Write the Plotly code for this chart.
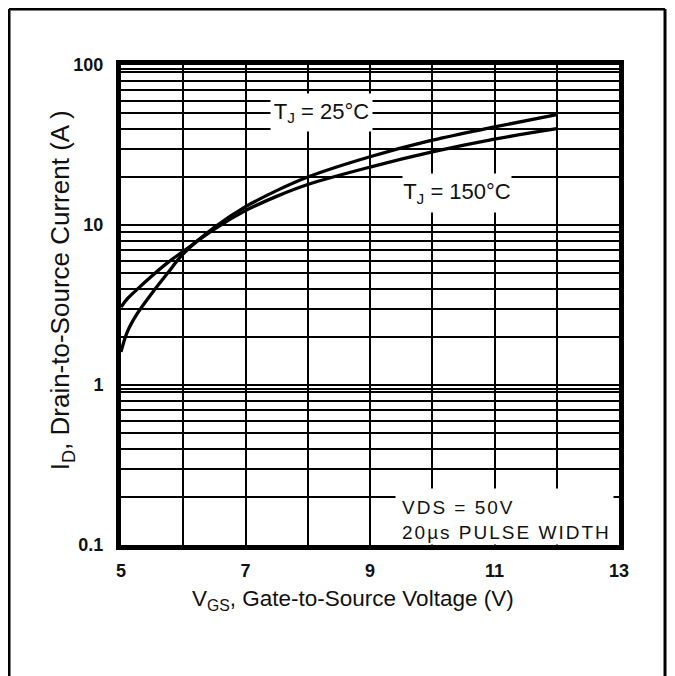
import plotly.graph_objects as go

# ---- data ----
vgs = [5.0, 5.1, 5.25, 5.5, 5.75, 6.0, 6.5, 7.0, 7.5, 8.0, 9.0, 10.0, 11.0, 12.0]
id_25c = [1.61, 2.14, 2.75, 3.76, 5.01, 6.61, 9.66, 13.0, 16.4, 19.95, 26.7, 33.9, 41.0, 49.0]
id_150c = [3.07, 3.45, 3.93, 4.82, 5.82, 6.84, 9.44, 12.3, 15.1, 17.9, 23.0, 28.6, 34.4, 40.0]

x_tick_vals = [5, 6, 7, 8, 9, 10, 11, 12, 13]
x_tick_text = ["5", "", "7", "", "9", "", "11", "", "13"]

y_tick_vals = [0.1, 0.2, 0.3, 0.4, 0.5, 0.6, 0.7, 0.8, 0.9, 0.95,
               1, 2, 3, 4, 5, 6, 7, 8, 9,
               10, 20, 30, 40, 50, 60, 70, 80, 90, 95, 100]
y_major = {0.1: "0.1", 1: "1", 10: "10", 100: "100"}
y_tick_text = [y_major.get(v, "") for v in y_tick_vals]

FONT = "Liberation Sans, Arial, Helvetica, sans-serif"
TXT = "#111111"

fig = go.Figure()
fig.add_trace(go.Scatter(x=vgs, y=id_25c, mode="lines",
                         line=dict(color="black", width=3.3, shape="spline", smoothing=1.0),
                         name="TJ = 25°C", showlegend=False, hoverinfo="skip"))
fig.add_trace(go.Scatter(x=vgs, y=id_150c, mode="lines",
                         line=dict(color="black", width=3.3, shape="spline", smoothing=1.0),
                         name="TJ = 150°C", showlegend=False, hoverinfo="skip"))

axis_common = dict(showgrid=True, gridcolor="black", gridwidth=1.7,
                   showline=True, linecolor="black", linewidth=5, mirror=True,
                   zeroline=False, ticks="outside",
                   tickcolor="rgba(0,0,0,0)",
                   tickfont=dict(family=FONT, size=18, color=TXT, weight="bold"))

fig.update_xaxes(range=[5, 13], tickmode="array", tickvals=x_tick_vals,
                 ticktext=x_tick_text, ticklen=5, **axis_common)
fig.update_yaxes(type="log", range=[-1, 2], tickmode="array", tickvals=y_tick_vals,
                 ticktext=y_tick_text, ticklen=9, **axis_common)

annotations = [
    # axis titles
    dict(text="V<sub>GS</sub>, Gate-to-Source Voltage (V)", x=0.466, y=-0.115,
         xref="paper", yref="paper", showarrow=False, xanchor="center", yanchor="middle",
         font=dict(family=FONT, size=22.5, color=TXT)),
    dict(text="I<sub>D</sub>, Drain-to-Source Current (A )", x=-0.119, y=0.53,
         xref="paper", yref="paper", showarrow=False, xanchor="center", yanchor="middle",
         textangle=-90, font=dict(family=FONT, size=26, color=TXT)),
    # curve labels (white boxes hide the grid)
    dict(text="T<sub>J</sub> = 25°C", x=0.4036, y=0.9, xref="paper", yref="paper",
         showarrow=False, xanchor="center", yanchor="middle", width=101, height=37,
         bgcolor="white", borderpad=0, font=dict(family=FONT, size=22, color=TXT)),
    dict(text="T<sub>J</sub> = 150°C", x=0.6747, y=0.733, xref="paper", yref="paper",
         showarrow=False, xanchor="center", yanchor="middle", width=108, height=38,
         bgcolor="white", borderpad=0, font=dict(family=FONT, size=22, color=TXT)),
    # test condition box
    dict(text=" ", x=0.99, y=0.0, xref="paper", yref="paper", showarrow=False,
         xanchor="right", yanchor="bottom", width=217, height=55, bgcolor="white",
         borderpad=0, font=dict(family=FONT, size=12, color=TXT)),
    dict(text="<span style='letter-spacing:2px'>VDS = 50V</span>", x=0.5602, y=0.078,
         xref="paper", yref="paper", showarrow=False, xanchor="left", yanchor="middle",
         font=dict(family=FONT, size=19, color=TXT)),
    dict(text="<span style='letter-spacing:2px'>20µs PULSE WIDTH</span>", x=0.5602, y=0.027,
         xref="paper", yref="paper", showarrow=False, xanchor="left", yanchor="middle",
         font=dict(family=FONT, size=19, color=TXT)),
]

frame = dict(type="line", xref="paper", yref="paper", line=dict(color="black", width=3))
shapes = [
    dict(frame, x0=-0.2249, x1=-0.2249, y0=1.1167, y1=-0.35),
    dict(frame, x0=-0.2249, x1=1.0924, y0=1.1167, y1=1.1167),
    dict(frame, x0=1.0924, x1=1.0924, y0=1.1167, y1=-0.35),
]

fig.update_layout(width=667, height=668,
                  margin=dict(l=113, r=56, t=57, b=131),
                  paper_bgcolor="white", plot_bgcolor="white",
                  annotations=annotations, shapes=shapes, showlegend=False)

fig.write_html("out.html")
